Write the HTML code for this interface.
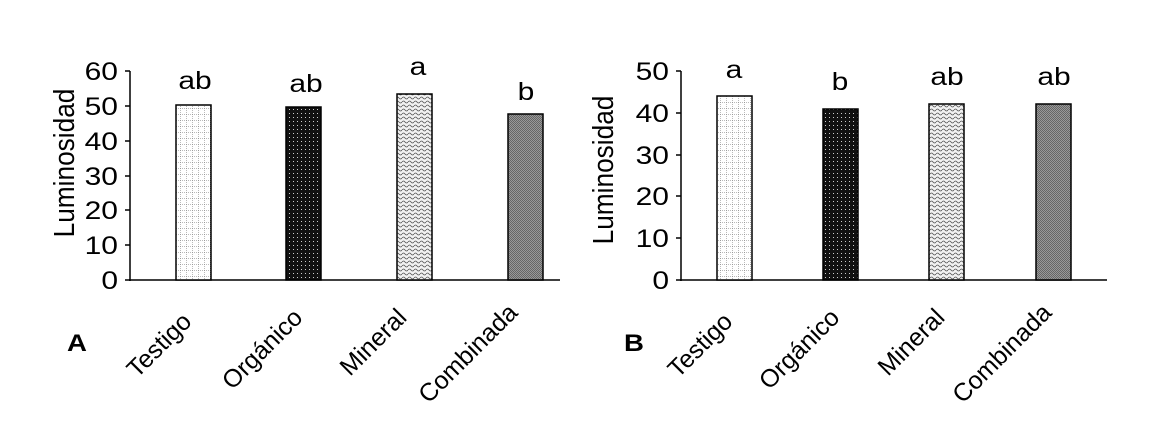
<!DOCTYPE html>
<html><head><meta charset="utf-8"><style>body{margin:0;background:#fff}svg{display:block}</style></head><body>
<svg width="1156" height="440" xmlns="http://www.w3.org/2000/svg" font-family="Liberation Sans, Arial, sans-serif">
<defs>
<pattern id="grid" width="6" height="6" patternUnits="userSpaceOnUse"><rect width="6" height="6" fill="#fff"/><path d="M0 0H6M0 0V6" stroke="#777" stroke-width="1" stroke-dasharray="1 1"/></pattern>
<pattern id="dots" width="4" height="4" patternUnits="userSpaceOnUse"><rect width="4" height="4" fill="#111"/><rect x="1" y="1" width="1" height="1" fill="#ccc"/></pattern>
<pattern id="wave" width="6" height="4" patternUnits="userSpaceOnUse"><rect width="6" height="4" fill="#f2f2f2"/><path d="M0 2Q1.5 0 3 2T6 2" fill="none" stroke="#555" stroke-width="0.8"/></pattern>
<pattern id="gray" width="2" height="2" patternUnits="userSpaceOnUse"><rect width="2" height="2" fill="#999"/><rect width="1" height="1" fill="#666"/><rect x="1" y="1" width="1" height="1" fill="#666"/></pattern>
</defs>
<g font-size="25" fill="#000">
<!-- Chart A -->
<line x1="130" y1="71" x2="130" y2="281" stroke="#000" stroke-width="1.5"/>
<line x1="129" y1="280" x2="560" y2="280" stroke="#000" stroke-width="1.5"/>
<g stroke="#000" stroke-width="1.5">
<line x1="125" y1="71" x2="130" y2="71"/><line x1="125" y1="106" x2="130" y2="106"/><line x1="125" y1="141" x2="130" y2="141"/><line x1="125" y1="176" x2="130" y2="176"/><line x1="125" y1="210" x2="130" y2="210"/><line x1="125" y1="245" x2="130" y2="245"/><line x1="125" y1="280" x2="130" y2="280"/>
</g>
<g text-anchor="end">
<text transform="translate(118,80) scale(1.2,1)">60</text><text transform="translate(118,115) scale(1.2,1)">50</text><text transform="translate(118,150) scale(1.2,1)">40</text><text transform="translate(118,185) scale(1.2,1)">30</text><text transform="translate(118,219) scale(1.2,1)">20</text><text transform="translate(118,254) scale(1.2,1)">10</text><text transform="translate(118,289) scale(1.2,1)">0</text>
</g>
<text transform="translate(74,163) rotate(-90) scale(1.05,1.15)" text-anchor="middle">Luminosidad</text>
<g stroke="#000" stroke-width="1.5">
<rect x="176" y="105" width="35" height="175" fill="url(#grid)"/>
<rect x="286" y="107" width="35" height="173" fill="url(#dots)"/>
<rect x="397" y="94" width="35" height="186" fill="url(#wave)"/>
<rect x="508" y="114" width="35" height="166" fill="url(#gray)"/>
</g>
<g text-anchor="middle">
<text transform="translate(195,89) scale(1.2,1)">ab</text><text transform="translate(306,92) scale(1.2,1)">ab</text><text transform="translate(418,75) scale(1.2,1)">a</text><text transform="translate(526,100) scale(1.2,1)">b</text>
</g>
<g text-anchor="end">
<text transform="translate(193,323) rotate(-45)">Testigo</text>
<text transform="translate(304,319) rotate(-45)">Orgánico</text>
<text transform="translate(408,319) rotate(-45)">Mineral</text>
<text transform="translate(519,314) rotate(-45)">Combinada</text>
</g>
<text transform="translate(67,351) scale(1.15,1)" font-weight="bold" font-size="24">A</text>
<!-- Chart B -->
<line x1="681" y1="71" x2="681" y2="281" stroke="#000" stroke-width="1.5"/>
<line x1="680" y1="280" x2="1107" y2="280" stroke="#000" stroke-width="1.5"/>
<g stroke="#000" stroke-width="1.5">
<line x1="676" y1="71" x2="681" y2="71"/><line x1="676" y1="113" x2="681" y2="113"/><line x1="676" y1="155" x2="681" y2="155"/><line x1="676" y1="196" x2="681" y2="196"/><line x1="676" y1="238" x2="681" y2="238"/><line x1="676" y1="280" x2="681" y2="280"/>
</g>
<g text-anchor="end">
<text transform="translate(669,80) scale(1.2,1)">50</text><text transform="translate(669,122) scale(1.2,1)">40</text><text transform="translate(669,164) scale(1.2,1)">30</text><text transform="translate(669,205) scale(1.2,1)">20</text><text transform="translate(669,247) scale(1.2,1)">10</text><text transform="translate(669,289) scale(1.2,1)">0</text>
</g>
<text transform="translate(613,170) rotate(-90) scale(1.05,1.15)" text-anchor="middle">Luminosidad</text>
<g stroke="#000" stroke-width="1.5">
<rect x="717" y="96" width="35" height="184" fill="url(#grid)"/>
<rect x="823" y="109" width="35" height="171" fill="url(#dots)"/>
<rect x="929" y="104" width="35" height="176" fill="url(#wave)"/>
<rect x="1036" y="104" width="35" height="176" fill="url(#gray)"/>
</g>
<g text-anchor="middle">
<text transform="translate(734,78) scale(1.2,1)">a</text><text transform="translate(840,90) scale(1.2,1)">b</text><text transform="translate(947,85) scale(1.2,1)">ab</text><text transform="translate(1054,85) scale(1.2,1)">ab</text>
</g>
<g text-anchor="end">
<text transform="translate(734,323) rotate(-45)">Testigo</text>
<text transform="translate(841,319) rotate(-45)">Orgánico</text>
<text transform="translate(946,319) rotate(-45)">Mineral</text>
<text transform="translate(1053,314) rotate(-45)">Combinada</text>
</g>
<text transform="translate(624,351) scale(1.15,1)" font-weight="bold" font-size="24">B</text>
</g>
</svg>
</body></html>
